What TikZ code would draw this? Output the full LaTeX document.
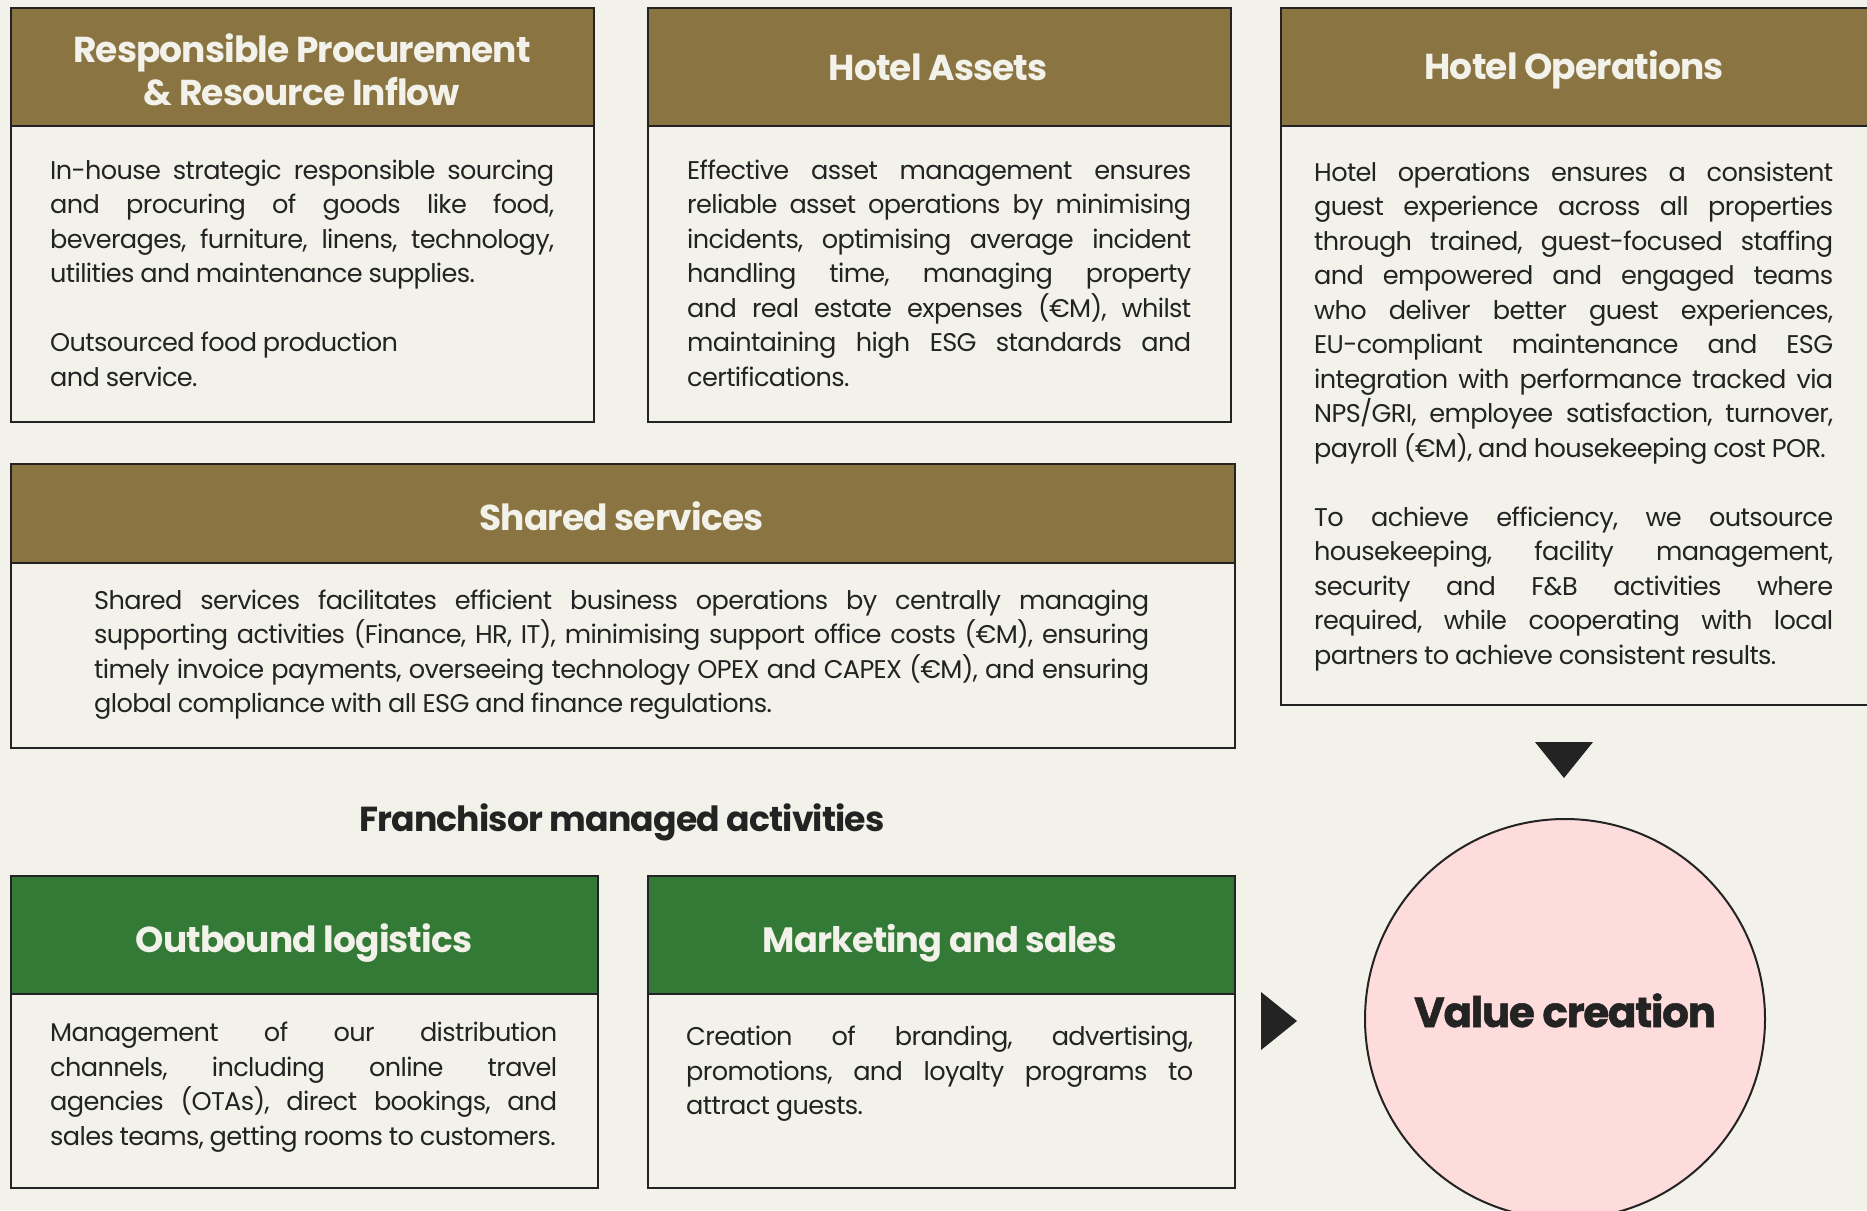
\documentclass[tikz,border=0pt]{standalone}
\usepackage{fontspec}
\setmainfont{Poppins}
\newfontfamily\bodyf{Poppins}[LetterSpace=-2.5]
\newfontfamily\headf{Poppins}[LetterSpace=-2.5]
\newfontfamily\heavyf{Poppins}[LetterSpace=-3, BoldFeatures={FakeBold=1.2}]
\definecolor{bg}{HTML}{F3F2EA}
\definecolor{hbrown}{HTML}{8A7441}
\definecolor{hgreen}{HTML}{327A36}
\definecolor{ink}{HTML}{232323}
\definecolor{pinkf}{HTML}{FFDCDC}
\newcommand\bodyset{\frenchspacing\leftskip=0pt\rightskip=0pt\spaceskip=0.23em plus 1fil minus 0.08em\xspaceskip=\spaceskip\parfillskip=0pt plus 1fill\hyphenpenalty=10000\exhyphenpenalty=10000\relax}
\newcommand\ragbreak{\hspace{0pt plus 1fill}\break}
\newcommand\pgap{\par\vspace{34.5pt}}
\begin{document}
\begin{tikzpicture}[x=1pt,y=-1pt,
  frame/.style={draw=ink, line width=2pt, fill=bg, inner sep=0pt, anchor=north west},
  hdrbox/.style={frame, fill=hbrown},
  hdrgreen/.style={frame, fill=hgreen},
  htext/.style={inner sep=0pt, anchor=base, text=bg, font=\headf\bfseries\fontsize{36}{42.3}\selectfont},
  bodytext/.style={inner sep=0pt, anchor=base west, text=ink, align=justify, font=\bodyf\fontsize{25.6}{34.5}\selectfont},
]
\useasboundingbox (0,0) rectangle (1867,1210);
\fill[bg] (0,0) rectangle (1867,1210);

% Box 1
\node[frame, minimum width=583.5pt, minimum height=414pt] (b1) at (9.5,7) {};
\node[hdrbox, minimum width=583.5pt, minimum height=118pt] (h1) at (9.5,7) {};
\node[htext] (t1a) at (302,62.7) {Responsible Procurement};
\node[htext] (t1b) at (302,105) {\& Resource Inflow};
\node[bodytext, text width=504pt] (p1) at (50,179) {\bodyset In-house strategic responsible sourcing\linebreak and procuring of goods like food,\linebreak beverages, furniture, linens, technology,\linebreak utilities and maintenance supplies.\pgap
Outsourced food production\ragbreak and service.\par};

% Box 2
\node[frame, minimum width=583.5pt, minimum height=414pt] (b2) at (646.5,7) {};
\node[hdrbox, minimum width=583.5pt, minimum height=118pt] (h2) at (646.5,7) {};
\node[htext] (t2) at (938,80) {Hotel Assets};
\node[bodytext, text width=504pt] (p2) at (687,179) {\bodyset Effective asset management ensures\linebreak reliable asset operations by minimising\linebreak incidents, optimising average incident\linebreak handling time, managing property\linebreak and real estate expenses (€M), whilst\linebreak maintaining high ESG standards and\linebreak certifications.\par};

% Box 3
\node[frame, minimum width=592pt, minimum height=697pt] (b3) at (1280,7) {};
\node[hdrbox, minimum width=592pt, minimum height=118pt] (h3) at (1280,7) {};
\node[htext] (t3) at (1574,79.5) {Hotel Operations};
\node[bodytext, text width=519pt] (p3) at (1314,181) {\bodyset Hotel operations ensures a consistent\linebreak guest experience across all properties\linebreak through trained, guest-focused staffing\linebreak and empowered and engaged teams\linebreak who deliver better guest experiences,\linebreak EU-compliant maintenance and ESG\linebreak integration with performance tracked via\linebreak NPS/GRI, employee satisfaction, turnover,\linebreak payroll (€M), and housekeeping cost POR.\pgap
To achieve efficiency, we outsource\linebreak housekeeping, facility management,\linebreak security and F\&B activities where\linebreak required, while cooperating with local\linebreak partners to achieve consistent results.\par};

% Shared services
\node[frame, minimum width=1224pt, minimum height=283.5pt] (b4) at (9.5,463) {};
\node[hdrbox, minimum width=1224pt, minimum height=99pt] (h4) at (9.5,463) {};
\node[htext] (t4) at (621.5,530) {Shared services};
\node[bodytext, text width=1055pt] (p4) at (94,609) {\bodyset Shared services facilitates efficient business operations by centrally managing\linebreak supporting activities (Finance, HR, IT), minimising support office costs (€M), ensuring\linebreak timely invoice payments, overseeing technology OPEX and CAPEX (€M), and ensuring\linebreak global compliance with all ESG and finance regulations.\par};

% Franchisor title
\node[inner sep=0pt, anchor=base, text=ink, font=\headf\bfseries\fontsize{34.7}{40}\selectfont] (fr) at (622,831) {Franchisor managed activities};

% Outbound logistics
\node[frame, minimum width=587pt, minimum height=312pt] (b5) at (9.5,875) {};
\node[hdrgreen, minimum width=587pt, minimum height=118pt] (h5) at (9.5,875) {};
\node[htext] (t5) at (304,952) {Outbound logistics};
\node[bodytext, text width=507pt] (p5) at (50,1041.5) {\bodyset Management of our distribution\linebreak channels, including online travel\linebreak agencies (OTAs), direct bookings, and\linebreak sales teams, getting rooms to customers.\par};

% Marketing and sales
\node[frame, minimum width=587pt, minimum height=312pt] (b6) at (646.5,875) {};
\node[hdrgreen, minimum width=587pt, minimum height=118pt] (h6) at (646.5,875) {};
\node[htext, font=\headf\bfseries\fontsize{35.2}{42}\selectfont] (t6) at (940,952) {Marketing and sales};
\node[bodytext, text width=507pt] (p6) at (686,1045.5) {\bodyset Creation of branding, advertising,\linebreak promotions, and loyalty programs to\linebreak attract guests.\par};

% Value creation
\node[circle, draw=ink, line width=2pt, fill=pinkf, minimum size=400pt, inner sep=0pt] (vc) at (1565,1019) {};
\node[inner sep=0pt, anchor=base, text=ink, font=\heavyf\bfseries\fontsize{42}{48}\selectfont] (vct) at (1565,1027) {Value creation};

% triangles
\fill[ink] (1535,742) -- (1593,742) -- (1564,778) -- cycle;
\fill[ink] (1261,992) -- (1297,1021) -- (1261,1050) -- cycle;
\end{tikzpicture}
\end{document}
